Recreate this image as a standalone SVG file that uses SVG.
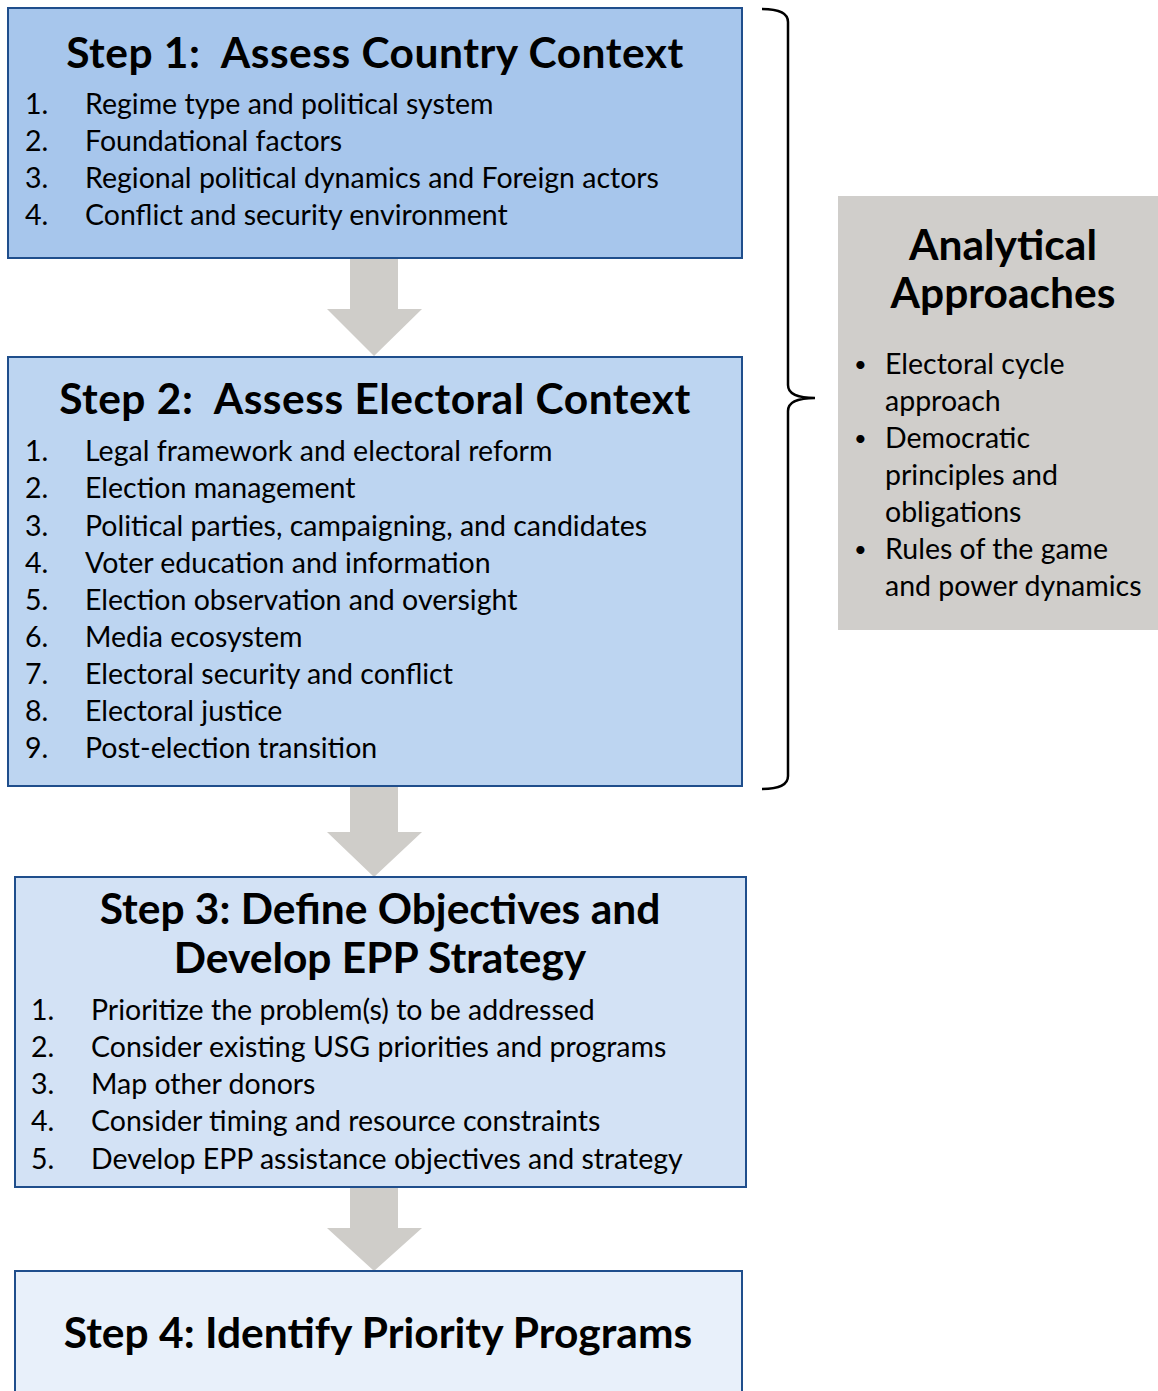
<svg xmlns="http://www.w3.org/2000/svg" width="1158" height="1391" viewBox="0 0 1158 1391">
<style>
.box{stroke:#1f4e8c;stroke-width:2}
.t{font-family:Lato,"Open Sans",sans-serif;font-weight:700;font-size:42.5px;fill:#000;text-anchor:middle;white-space:pre}
.w{letter-spacing:0.5px}
.i{font-family:Lato,"Open Sans",sans-serif;font-size:28.5px;fill:#000}
.b{font-family:Lato,"Open Sans",sans-serif;font-size:22px;fill:#000}
.arr{fill:#cfcdc9}
</style>
<rect width="1158" height="1391" fill="#fff"/>
<g id="connectors">
<path class="arr" d="M350 258H398V309H422L374 356L327 309H350Z"/>
<path class="arr" d="M350 786H398V832H422L374 877L327 832H350Z"/>
<path class="arr" d="M350 1187H398V1228H422L374 1271L327 1228H350Z"/>
<path d="M762 9Q788 9 788 22V385Q788 398 815 398Q788 398 788 411V776Q788 789 762 789" fill="none" stroke="#000" stroke-width="2.5"/>
</g>
<g id="step1">
<rect class="box" x="8" y="8" width="734" height="250" fill="#a7c6ec"/>
<text class="t w" x="375" y="68" xml:space="preserve">Step 1:  Assess Country Context</text>
<text class="i" x="25" y="114">1.</text><text class="i" x="85" y="114">Regime type and political system</text>
<text class="i" x="25" y="151">2.</text><text class="i" x="85" y="151">Foundational factors</text>
<text class="i" x="25" y="188">3.</text><text class="i" x="85" y="188">Regional political dynamics and Foreign actors</text>
<text class="i" x="25" y="225">4.</text><text class="i" x="85" y="225">Conflict and security environment</text>
</g>
<g id="step2">
<rect class="box" x="8" y="357" width="734" height="429" fill="#bdd5f1"/>
<text class="t w" x="375" y="414" xml:space="preserve">Step 2:  Assess Electoral Context</text>
<text class="i" x="25" y="461">1.</text><text class="i" x="85" y="461">Legal framework and electoral reform</text>
<text class="i" x="25" y="498">2.</text><text class="i" x="85" y="498">Election management</text>
<text class="i" x="25" y="536">3.</text><text class="i" x="85" y="536">Political parties, campaigning, and candidates</text>
<text class="i" x="25" y="573">4.</text><text class="i" x="85" y="573">Voter education and information</text>
<text class="i" x="25" y="610">5.</text><text class="i" x="85" y="610">Election observation and oversight</text>
<text class="i" x="25" y="647">6.</text><text class="i" x="85" y="647">Media ecosystem</text>
<text class="i" x="25" y="684">7.</text><text class="i" x="85" y="684">Electoral security and conflict</text>
<text class="i" x="25" y="721">8.</text><text class="i" x="85" y="721">Electoral justice</text>
<text class="i" x="25" y="758">9.</text><text class="i" x="85" y="758">Post-election transition</text>
</g>
<g id="step3">
<rect class="box" x="15" y="877" width="731" height="310" fill="#d3e2f5"/>
<text class="t" x="380" y="924">Step 3: Define Objectives and</text>
<text class="t" x="380" y="973">Develop EPP Strategy</text>
<text class="i" x="31" y="1020">1.</text><text class="i" x="91" y="1020">Prioritize the problem(s) to be addressed</text>
<text class="i" x="31" y="1057">2.</text><text class="i" x="91" y="1057">Consider existing USG priorities and programs</text>
<text class="i" x="31" y="1094">3.</text><text class="i" x="91" y="1094">Map other donors</text>
<text class="i" x="31" y="1131">4.</text><text class="i" x="91" y="1131">Consider timing and resource constraints</text>
<text class="i" x="31" y="1169">5.</text><text class="i" x="91" y="1169">Develop EPP assistance objectives and strategy</text>
</g>
<g id="step4">
<rect class="box" x="15" y="1271" width="727" height="130" fill="#e8f0fa"/>
<text class="t" x="378" y="1348">Step 4: Identify Priority Programs</text>
</g>
<g id="approaches">
<rect x="838" y="196" width="330" height="434" fill="#d0cecb"/>
<text class="t" x="1003" y="260">Analytical</text>
<text class="t" x="1003" y="308">Approaches</text>
<text class="b" x="854" y="372">•</text><text class="i" x="885" y="374">Electoral cycle</text>
<text class="i" x="885" y="411">approach</text>
<text class="b" x="854" y="446">•</text><text class="i" x="885" y="448">Democratic</text>
<text class="i" x="885" y="485">principles and</text>
<text class="i" x="885" y="522">obligations</text>
<text class="b" x="854" y="557">•</text><text class="i" x="885" y="559">Rules of the game</text>
<text class="i" x="885" y="596">and power dynamics</text>
</g>
</svg>
